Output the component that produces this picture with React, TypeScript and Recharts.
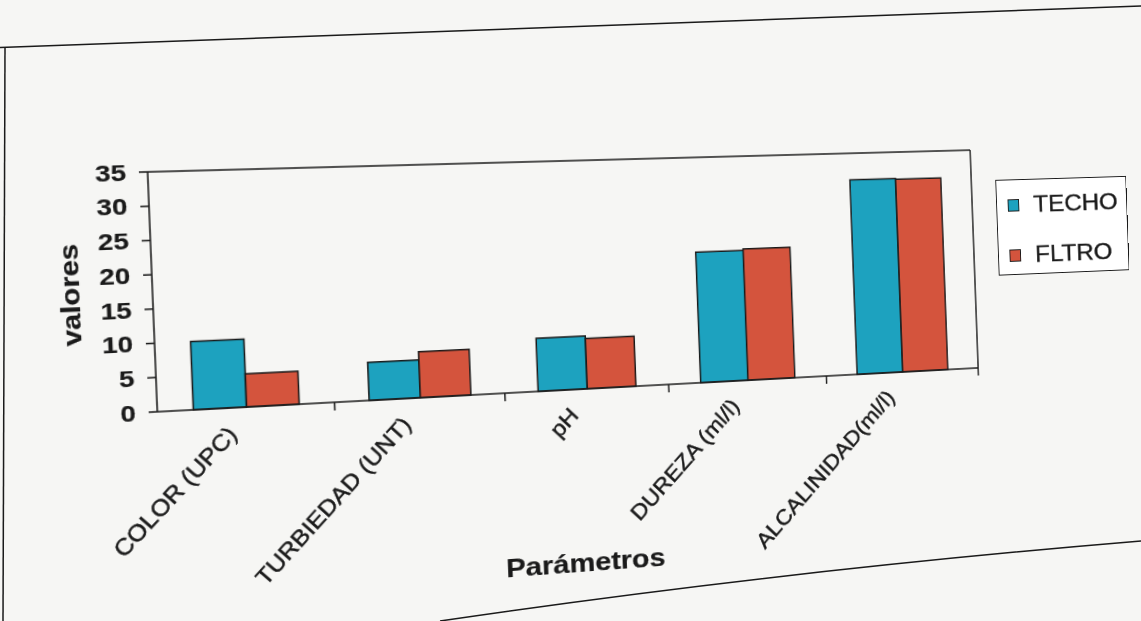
import { Bar, BarChart, XAxis, YAxis } from 'recharts';

const PARAMETROS = ['COLOR (UPC)', 'TURBIEDAD (UNT)', 'pH', 'DUREZA (ml/l)', 'ALCALINIDAD(ml/l)'];
const TECHO = [10.0, 5.7, 8.1, 20.3, 30.8];
const FLTRO = [4.9, 6.9, 7.7, 20.5, 30.7];
const Y_TICKS = [0, 5, 10, 15, 20, 25, 30, 35];
const SERIES = [
  { key: 'techo', name: 'TECHO', color: '#1da2bf' },
  { key: 'fltro', name: 'FLTRO', color: '#d4543d' },
];

const INK = '#1a1a1a';
const PAPER = '#f6f6f4';
const FONT = 'Arial, "Liberation Sans", sans-serif';

const W = 1141;
const H = 621;

const data = PARAMETROS.map((p, i) => ({ p, techo: TECHO[i], fltro: FLTRO[i] }));

// the printed font runs wide, so glyphs get stretched along the reading direction
function WideText({ x, y, angle = 0, k = 1, anchor = 'start', size, weight = 'normal', children, dy }: any) {
  return (
    <text
      transform={`translate(${x},${y}) rotate(${angle}) scale(${k},1)`}
      textAnchor={anchor}
      dy={dy}
      fontSize={size}
      fontWeight={weight}
      fontFamily={FONT}
      fill={INK}
      stroke={INK}
      strokeWidth={weight === 'bold' ? 0.2 : 0.45}
    >
      {children}
    </text>
  );
}

function YTick({ x, y, payload }: any) {
  return (
    <WideText x={x} y={y} anchor="end" dy="0.36em" size={21.5} weight="bold" k={1.18}>
      {payload.value}
    </WideText>
  );
}

// rotated category label, plus a tick mark at the right edge of its band
function CatTick({ x, y, payload }: any) {
  const half = payload?.offset ?? 83;
  return (
    <g>
      <line x1={x + half} x2={x + half} y1={y} y2={y + 8} stroke={INK} strokeWidth={1.5} />
      <WideText x={x - 9} y={y + 27} angle={-45} anchor="end" size={22} k={1.08}>
        {payload.value}
      </WideText>
    </g>
  );
}

function YTitle({ viewBox }: any) {
  return (
    <WideText x={89} y={viewBox.y + viewBox.height / 2} angle={-90} anchor="middle" dy="0.36em" size={24} weight="bold" k={1.15}>
      valores
    </WideText>
  );
}

function XTitle({ viewBox }: any) {
  return (
    <WideText x={viewBox.x + viewBox.width / 2 - 8} y={573} anchor="middle" size={25.5} weight="bold" k={1.16}>
      Parámetros
    </WideText>
  );
}

function LegendBox() {
  return (
    <div
      style={{
        position: 'absolute',
        left: 1029,
        top: 193,
        width: 150,
        height: 101,
        boxSizing: 'border-box',
        border: `1.5px solid ${INK}`,
        background: '#fff',
        fontFamily: FONT,
        fontSize: 24.8,
        color: INK,
        WebkitTextStroke: `0.4px ${INK}`,
      }}
    >
      {SERIES.map((s, i) => (
        <div key={s.key} style={{ position: 'absolute', left: 12, top: 12 + i * 53, height: 28, display: 'flex', alignItems: 'center' }}>
          <span
            style={{
              width: 13,
              height: 13,
              boxSizing: 'border-box',
              border: `1.5px solid ${INK}`,
              background: s.color,
              display: 'inline-block',
            }}
          />
          <span style={{ display: 'inline-block', marginLeft: 16, transform: 'scaleX(1.12)', transformOrigin: 'left center', lineHeight: 1 }}>
            {s.name}
          </span>
        </div>
      ))}
    </div>
  );
}

// outline of the chart area as it sits on the bent page
function PageFrame() {
  return (
    <svg width={W} height={H} style={{ position: 'absolute', left: 0, top: 0, pointerEvents: 'none' }}>
      <g fill="none" stroke={INK} strokeWidth={1.5}>
        <path d="M 0 47.5 L 1141 6" />
        <path d="M 5 47 L 3 621" />
        <path d="M 440 621 Q 780 571 1141 541" />
      </g>
    </svg>
  );
}

export default function App() {
  const axisLine = { stroke: INK, strokeWidth: 1.5 };
  return (
    <div style={{ position: 'fixed', left: 0, top: 0, width: W, height: H, background: PAPER, overflow: 'hidden' }}>
      <PageFrame />
      <div
        style={{
          position: 'absolute',
          left: 0,
          top: 0,
          width: W,
          height: H,
          transformOrigin: '563px 275px',
          transform: 'perspective(1500px) rotateY(10deg) rotate(-2.25deg)',
        }}
      >
        <BarChart
          width={W}
          height={H}
          data={data}
          margin={{ top: 160, right: 138, bottom: 0, left: 0 }}
          barCategoryGap="20%"
          barGap={0}
        >
          <XAxis
            xAxisId="b"
            dataKey="p"
            interval={0}
            height={231}
            tickLine={false}
            tickSize={0}
            tickMargin={0}
            tick={<CatTick />}
            axisLine={axisLine}
            label={<XTitle />}
          />
          <XAxis xAxisId="t" dataKey="p" orientation="top" height={1} tick={false} tickLine={false} axisLine={axisLine} />
          <YAxis
            yAxisId="l"
            domain={[0, 35]}
            ticks={Y_TICKS}
            interval={0}
            width={165}
            tickSize={8}
            tickMargin={12}
            tickLine={{ stroke: INK, strokeWidth: 1.5 }}
            axisLine={axisLine}
            tick={<YTick />}
            label={<YTitle />}
          />
          <YAxis yAxisId="r" orientation="right" domain={[0, 35]} width={1} tick={false} tickLine={false} axisLine={axisLine} />
          {SERIES.map((s) => (
            <Bar
              key={s.key}
              xAxisId="b"
              yAxisId="l"
              dataKey={s.key}
              name={s.name}
              fill={s.color}
              stroke={INK}
              strokeWidth={1.5}
              isAnimationActive={false}
            />
          ))}
        </BarChart>
        <LegendBox />
      </div>
    </div>
  );
}
